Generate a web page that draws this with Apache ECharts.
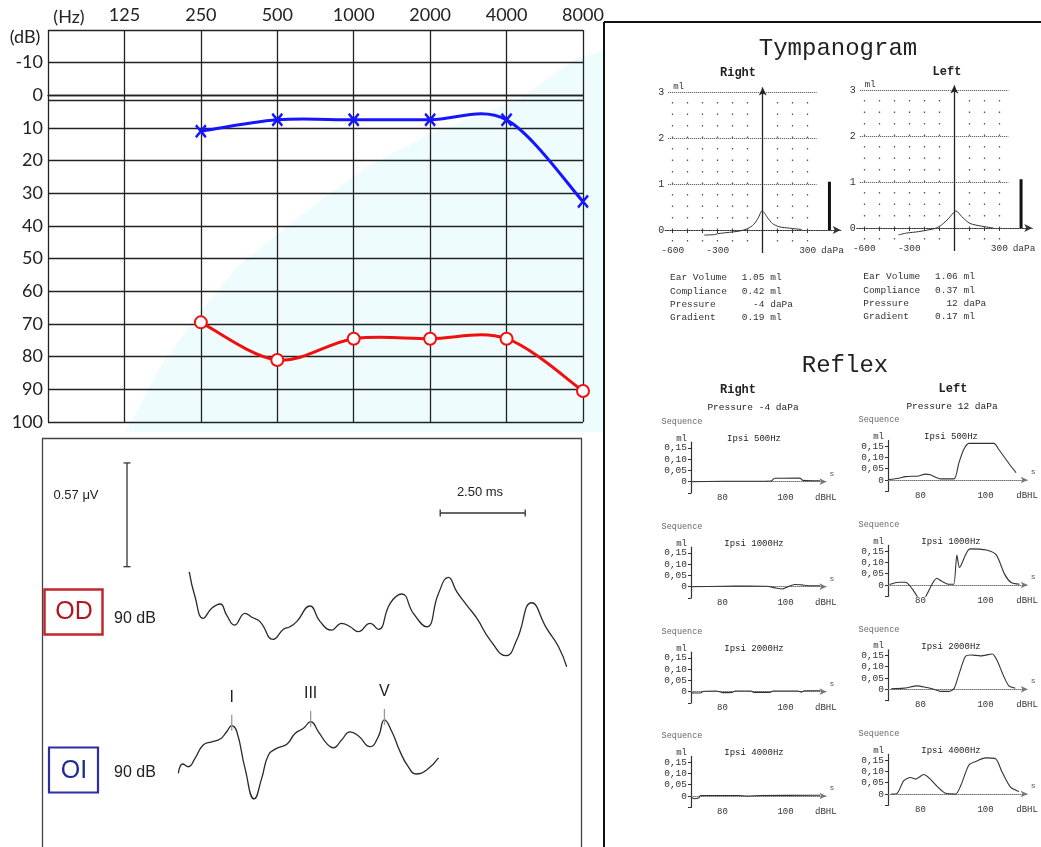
<!DOCTYPE html>
<html>
<head>
<meta charset="utf-8">
<script src="https://cdn.jsdelivr.net/npm/echarts/dist/echarts.min.js"></script>
<style>
html, body { margin: 0; padding: 0; background: #fff; }
#chart { width: 1041px; height: 847px; }
</style>
</head>
<body>
<div id="chart"></div>
<script>
// ---- audiogram ----
var freqLabels = ['125', '250', '500', '1000', '2000', '4000', '8000'];
var testFreqs = ['250', '500', '1000', '2000', '4000', '8000'];
var leftEarDb = [11, 7.5, 7.5, 7.5, 7.5, 32.5];   // blue X
var rightEarDb = [69.5, 81, 74.5, 74.5, 74.5, 90.5]; // red O

// ---- ABR (ms / uV) ----
var odTime = [0.33, 0.50, 0.74, 0.99, 1.24, 1.43, 1.66, 1.97, 2.17, 2.41, 2.80, 3.10, 3.29, 3.49, 3.88, 4.18, 4.52, 4.81, 5.06, 5.30, 5.65, 5.89, 6.24, 6.58, 6.92, 7.31, 7.66, 7.95, 8.20, 8.49, 8.79, 9.18, 9.65, 9.96, 10.40, 10.84, 11.19, 11.43];
var odAmp = [0.375, 0.238, 0.119, 0.174, 0.198, 0.137, 0.082, 0.147, 0.125, 0.101, 0.004, 0.059, 0.073, 0.101, 0.187, 0.101, 0.055, 0.092, 0.073, 0.046, 0.092, 0.059, 0.202, 0.253, 0.147, 0.073, 0.256, 0.344, 0.265, 0.192, 0.119, 0.0, -0.086, 0.0, 0.205, 0.064, -0.037, -0.147];
var oiTime = [0.01, 0.14, 0.30, 0.50, 0.74, 0.99, 1.24, 1.43, 1.58, 1.73, 1.97, 2.24, 2.46, 2.66, 2.90, 3.20, 3.44, 3.69, 3.90, 4.13, 4.37, 4.57, 4.81, 5.06, 5.30, 5.65, 5.89, 6.07, 6.29, 6.53, 6.77, 7.00, 7.31, 7.66];
var oiAmp = [-0.018, 0.033, 0.018, 0.064, 0.137, 0.155, 0.170, 0.210, 0.243, 0.210, 0.009, -0.159, -0.046, 0.082, 0.119, 0.141, 0.201, 0.229, 0.265, 0.210, 0.146, 0.122, 0.165, 0.210, 0.188, 0.128, 0.183, 0.275, 0.210, 0.101, 0.018, -0.022, 0.0, 0.067];
var peakLabels = ['I', 'III', 'V'];
var peakIdx = [8, 18, 27];
var scaleUv = 0.57;
var scaleMs = 2.5;

// ---- tympanogram (daPa / ml) ----
var tympRight = [[-390, -0.11], [-320, -0.1], [-300, -0.08], [-220, -0.05], [-150, -0.02], [-100, 0.03], [-60, 0.12], [-30, 0.26], [-4, 0.42], [30, 0.28], [65, 0.14], [110, 0.07], [180, 0.04], [260, 0.01]];
var tympLeft = [[-373, -0.15], [-317, -0.11], [-240, -0.08], [-129, -0.01], [-84, 0.07], [-40, 0.2], [12, 0.37], [49, 0.25], [104, 0.1], [182, 0.04], [260, 0.0]];
var earVolume = [1.05, 1.06];
var tympLabels = ['Ear Volume', 'Compliance', 'Pressure', 'Gradient'];
var tympValuesR = ['1.05 ml', '0.42 ml', '  -4 daPa', '0.19 ml'];
var tympValuesL = ['1.06 ml', '0.37 ml', '  12 daPa', '0.17 ml'];
var tympDotCols = [-600, -500, -400, -300, -200, -100, 100, 200, 300];
var tympLevels = [1, 2, 3];

// ---- reflex (dBHL / ml) ----
var reflexFreqs = ['500Hz', '1000Hz', '2000Hz', '4000Hz'];
var reflexR500 = [[70, 0], [80, 0.002], [90, 0.002], [95.5, 0.003], [96.5, 0.015], [104.5, 0.016], [105.5, 0.006], [111, 0.004]];
var reflexR1000 = [[70, 0], [80, 0.002], [88, 0.003], [94, 0.002], [97, -0.006], [99, -0.01], [100.5, -0.002], [103, 0.01], [105, 0.008], [108, 0.004], [111, 0.004]];
var reflexR2000 = [[70, -0.005], [73, -0.006], [74, 0.002], [78, 0.003], [80, -0.004], [83, -0.003], [84, 0.003], [89, 0.003], [90, -0.003], [95, -0.003], [96, 0.003], [104, 0.003], [105, -0.002], [106, 0.004], [111, 0.004]];
var reflexR4000 = [[70, -0.005], [71, -0.012], [72.5, -0.008], [73, 0.002], [85, 0.002], [88, 0], [92, 0.002], [111, 0.003]];
var reflexL500 = [[70.3, 0.002], [73.3, 0.008], [75.4, 0.015], [79.5, 0.018], [81.5, 0.026], [83, 0.023], [86.2, 0.005], [90.3, 0.005], [91.8, 0.075], [93.3, 0.135], [94.9, 0.162], [102.6, 0.162], [104.1, 0.135], [107.2, 0.073], [109.4, 0.033]];
var reflexL1000 = [[70.5, 0.002], [73.3, 0.012], [75.4, 0.012], [77.4, -0.016], [79.5, -0.06], [81, -0.067], [82, -0.04], [85, 0.03], [86.6, 0.016], [88.7, 0.003], [90.2, 0.003], [91.2, 0.133], [92, 0.078], [95.2, 0.16], [100.3, 0.155], [103.3, 0.133], [105.9, 0.047], [107.9, 0.011], [110.5, 0.003]];
var reflexL2000 = [[71, 0.002], [74.9, 0.005], [79, 0.015], [81.5, 0.009], [84.1, 0], [86.2, -0.009], [88.7, -0.009], [90.3, 0.003], [91.8, 0.065], [93.8, 0.145], [95.4, 0.152], [98.5, 0.148], [102.1, 0.156], [103.6, 0.126], [105.6, 0.058], [107.2, 0.015], [109.2, 0.005]];
var reflexL4000 = [[71, 0], [72.8, 0.003], [74.8, 0.058], [76.9, 0.073], [78.5, 0.066], [81, 0.086], [83, 0.066], [85.6, 0.027], [87.7, 0.003], [90.8, 0], [92.3, 0.034], [94.9, 0.128], [97, 0.144], [100, 0.16], [103.1, 0.156], [105.1, 0.097], [107.7, 0.03], [110.3, 0.011]];

var mono = '"Liberation Mono", "DejaVu Sans Mono", monospace';
var sans = '"Liberation Sans", Arial, sans-serif';
var lato = 'Lato, "Open Sans", sans-serif';

function txt(s, x, y, size, o) {
  o = o || {};
  return {
    type: 'text', x: x, y: y, z: 50, silent: true,
    style: {
      text: s, fill: o.color || '#222',
      font: (o.weight || 'normal') + ' ' + size + 'px ' + (o.family || mono),
      align: o.align || 'center', verticalAlign: 'middle',
      textAlign: o.align || 'center', textVerticalAlign: 'middle'
    }
  };
}

// catmull-rom curve through the points, drawn in the grid's own coords
function splineSeries(axisIdx, pts, color) {
  return {
    type: 'custom', xAxisIndex: axisIdx, yAxisIndex: axisIdx, z: 4, silent: true,
    data: pts,
    renderItem: function (params, api) {
      if (params.dataIndex !== 0) return null;
      var p = pts.map(function (d) { return api.coord(d); });
      var kids = [];
      for (var i = 0; i < p.length - 1; i++) {
        var p0 = p[i - 1] || p[i], p1 = p[i], p2 = p[i + 1], p3 = p[i + 2] || p2;
        kids.push({
          type: 'bezierCurve',
          shape: {
            x1: p1[0], y1: p1[1], x2: p2[0], y2: p2[1],
            cpx1: p1[0] + (p2[0] - p0[0]) / 6, cpy1: p1[1] + (p2[1] - p0[1]) / 6,
            cpx2: p2[0] - (p3[0] - p1[0]) / 6, cpy2: p2[1] - (p3[1] - p1[1]) / 6
          },
          style: { stroke: color, lineWidth: 3, fill: null }
        });
      }
      return { type: 'group', children: kids };
    }
  };
}

var grids = [], xAxes = [], yAxes = [], series = [], graphics = [];

// background swoosh and frames
graphics.push({
  type: 'polygon', z: -10, silent: true,
  shape: { points: [[126, 432], [160, 367], [200, 312], [237, 267], [279, 233], [321, 200], [367, 167], [432, 133], [517, 100], [574, 60], [604, 50], [604, 432]] },
  style: { fill: '#eefcfd' }
});
graphics.push({ type: 'line', z: 40, shape: { x1: 604, y1: 22, x2: 1041, y2: 22 }, style: { stroke: '#111', lineWidth: 2 } });
graphics.push({ type: 'line', z: 40, shape: { x1: 604, y1: 22, x2: 604, y2: 847 }, style: { stroke: '#111', lineWidth: 2 } });
graphics.push({ type: 'rect', z: 40, shape: { x: 42.5, y: 438.5, width: 539, height: 420 }, style: { fill: 'none', stroke: '#444', lineWidth: 1.3 } });

// ===== audiogram =====
grids.push({ left: 48, top: 30, width: 535, height: 392 });
xAxes.push({
  gridIndex: 0, type: 'value', min: 0, max: 7, interval: 1, position: 'top',
  axisLine: { lineStyle: { color: '#222', width: 1.3 } },
  axisTick: { show: false },
  axisLabel: { formatter: function (v) { return v > 0 ? freqLabels[v - 1] : ''; }, fontFamily: lato, fontSize: 18, color: '#222', margin: 6 },
  splitLine: { show: true, lineStyle: { color: '#222', width: 1.3 } }
});
yAxes.push({
  gridIndex: 0, type: 'value', min: -20, max: 100, interval: 10, inverse: true,
  axisLine: { show: false }, axisTick: { show: false },
  axisLabel: { formatter: function (v) { return v === -20 ? '' : v; }, fontFamily: lato, fontSize: 18, color: '#222', margin: 5 },
  splitLine: { show: true, lineStyle: { color: '#222', width: 1.3 } }
});
graphics.push(txt('(Hz)', 69, 17, 18, { family: lato }));
graphics.push(txt('(dB)', 25, 37, 18, { family: lato }));

var leftPts = testFreqs.map(function (f, i) { return [freqLabels.indexOf(f) + 1, leftEarDb[i]]; });
var rightPts = testFreqs.map(function (f, i) { return [freqLabels.indexOf(f) + 1, rightEarDb[i]]; });
series.push(splineSeries(0, leftPts, '#1515ff'));
series.push(splineSeries(0, rightPts, '#f01010'));
series.push({
  type: 'line', xAxisIndex: 0, yAxisIndex: 0, z: 6,
  data: leftPts,
  lineStyle: { opacity: 0 },
  symbol: 'path://M0,0L10,12M10,0L0,12', symbolSize: [10, 12],
  itemStyle: { color: '#1515ff', borderColor: '#1515ff', borderWidth: 2.5 },
  markLine: { silent: true, symbol: 'none', label: { show: false }, lineStyle: { color: '#222', width: 1.3, type: 'solid' }, data: [{ yAxis: 1.5 }] }
});
series.push({
  type: 'line', xAxisIndex: 0, yAxisIndex: 0, z: 6,
  data: rightPts,
  lineStyle: { opacity: 0 },
  symbol: 'emptyCircle', symbolSize: 12,
  itemStyle: { color: '#f01010', borderWidth: 2 }
});

// ===== ABR =====
var abrBox = { left: 42, top: 438, width: 540, height: 409 };
grids.push(abrBox);
grids.push(abrBox);
xAxes.push({ gridIndex: 1, type: 'value', min: -4, max: 11.88, show: false });
yAxes.push({ gridIndex: 1, type: 'value', min: -1.137, max: 1.11, show: false });
xAxes.push({ gridIndex: 2, type: 'value', min: -4, max: 11.88, show: false });
yAxes.push({ gridIndex: 2, type: 'value', min: -0.423, max: 1.824, show: false });

series.push({
  type: 'line', xAxisIndex: 1, yAxisIndex: 1, smooth: 0.5, showSymbol: false,
  data: odTime.map(function (t, i) { return [t, odAmp[i]]; }),
  lineStyle: { color: '#2a2a2a', width: 1.3 }
});
var uvBarAt = [-1.5, 0.403], msBarAt = [7.71, 0.698];
series.push({
  type: 'line', xAxisIndex: 1, yAxisIndex: 1, symbol: 'rect', symbolSize: [7, 1.3],
  data: [uvBarAt, [uvBarAt[0], uvBarAt[1] + scaleUv]],
  lineStyle: { color: '#333', width: 1.3 }, itemStyle: { color: '#333' }
});
series.push({
  type: 'line', xAxisIndex: 1, yAxisIndex: 1, symbol: 'rect', symbolSize: [1.3, 7],
  data: [msBarAt, [msBarAt[0] + scaleMs, msBarAt[1]]],
  lineStyle: { color: '#333', width: 1.5 }, itemStyle: { color: '#333' }
});
series.push({
  type: 'line', xAxisIndex: 2, yAxisIndex: 2, smooth: 0.5, showSymbol: false,
  data: oiTime.map(function (t, i) { return [t, oiAmp[i]]; }),
  lineStyle: { color: '#2a2a2a', width: 1.3 },
  markPoint: {
    silent: true, symbol: 'rect', symbolSize: [1.3, 16], symbolOffset: [0, -3],
    itemStyle: { color: '#9a9a9a' },
    label: { show: true, position: 'top', distance: 9, formatter: '{b}', color: '#222', fontSize: 16, fontFamily: sans },
    data: peakIdx.map(function (k, i) { return { name: peakLabels[i], coord: [oiTime[k], oiAmp[k]] }; })
  }
});
graphics.push(txt(scaleUv.toFixed(2) + ' μV', 76, 495, 13, { family: sans }));
graphics.push(txt(scaleMs.toFixed(2) + ' ms', 480, 492, 13, { family: sans }));
graphics.push({ type: 'rect', z: 45, shape: { x: 44.5, y: 589.5, width: 58, height: 45 }, style: { fill: '#fff', stroke: '#c2272d', lineWidth: 2.5 } });
graphics.push(txt('OD', 74, 612.5, 25, { family: sans, color: '#b01a1f' }));
graphics.push(txt('90 dB', 135, 619, 16, { family: sans }));
graphics.push({ type: 'rect', z: 45, shape: { x: 49, y: 747.5, width: 49, height: 45 }, style: { fill: '#fff', stroke: '#2b2fa0', lineWidth: 2.2 } });
graphics.push(txt('OI', 74, 771.5, 25, { family: sans, color: '#1c2a9a' }));
graphics.push(txt('90 dB', 135, 773, 16, { family: sans }));

// ===== tympanogram =====
function tympMarks() {
  var d = [];
  tympLevels.forEach(function (l) {
    d.push([{ coord: [-630, l], lineStyle: { type: 'dotted', color: '#444', width: 1 } }, { coord: [360, l] }]);
  });
  tympDotCols.forEach(function (c) {
    d.push([{ coord: [c, -0.25], lineStyle: { type: [1.5, 10], color: '#555', width: 1.3 } }, { coord: [c, 2.8] }]);
  });
  d.push([{ coord: [0, -0.5], symbol: 'none', lineStyle: { type: 'solid', color: '#222', width: 1.3 } }, { coord: [0, 3.1], symbol: 'arrow', symbolSize: [6, 8] }]);
  return d;
}
var tympGrids = [
  { left: 665.2, top: 87.4, data: tympRight, vol: earVolume[0] },
  { left: 856.8, top: 85.4, data: tympLeft, vol: earVolume[1] }
];
tympGrids.forEach(function (g) {
  var gi = grids.length;
  grids.push({ left: g.left, top: g.top, width: 175.5, height: 165.6 });
  xAxes.push({
    gridIndex: gi, type: 'value', min: -650, max: 520,
    axisLine: { onZero: true, symbol: ['none', 'arrow'], symbolSize: [6, 8], lineStyle: { color: '#333', width: 1.2, type: 'dotted' } },
    axisTick: { show: true, customValues: tympDotCols, length: 3, lineStyle: { color: '#333' } },
    axisLabel: { customValues: [-600, -300, 300, 465], formatter: function (v) { return v === 465 ? 'daPa' : String(v); }, fontFamily: mono, fontSize: 9.5, color: '#333', margin: -8 },
    splitLine: { show: false }
  });
  yAxes.push({
    gridIndex: gi, type: 'value', min: -0.5, max: 3.1,
    axisLine: { show: false, onZero: false }, axisTick: { show: false },
    axisLabel: { customValues: [0, 1, 2, 3], fontFamily: mono, fontSize: 10, color: '#333', margin: 1 },
    splitLine: { show: false },
    name: 'ml', nameLocation: 'end', nameGap: 1,
    nameTextStyle: { align: 'left', verticalAlign: 'middle', padding: [0, 0, 0, 8], fontFamily: mono, fontSize: 9, color: '#333' }
  });
  series.push({
    type: 'line', xAxisIndex: gi, yAxisIndex: gi, smooth: 0.25, showSymbol: false, z: 4,
    data: g.data, lineStyle: { color: '#333', width: 1 },
    markLine: { silent: true, symbol: 'none', label: { show: false }, data: tympMarks() }
  });
  series.push({
    type: 'bar', xAxisIndex: gi, yAxisIndex: gi, barWidth: 3,
    data: [[445, g.vol]], itemStyle: { color: '#111' }
  });
});
graphics.push(txt('Tympanogram', 838, 49, 24));
graphics.push(txt('Right', 738, 73, 12, { weight: 'bold' }));
graphics.push(txt('Left', 947, 72, 12, { weight: 'bold' }));
var infoRowsR = [277.3, 291, 304.7, 317.7], infoRowsL = [276, 290, 303.3, 316.7];
tympLabels.forEach(function (l, i) {
  graphics.push(txt(l, 670, infoRowsR[i], 9.5, { align: 'left', color: '#333' }));
  graphics.push(txt(tympValuesR[i], 741.7, infoRowsR[i], 9.5, { align: 'left', color: '#333' }));
  graphics.push(txt(l, 863.3, infoRowsL[i], 9.5, { align: 'left', color: '#333' }));
  graphics.push(txt(tympValuesL[i], 935, infoRowsL[i], 9.5, { align: 'left', color: '#333' }));
});

// ===== reflex =====
graphics.push(txt('Reflex', 845, 366, 24));
graphics.push(txt('Right', 738, 390, 12, { weight: 'bold' }));
graphics.push(txt('Left', 953, 388.5, 12, { weight: 'bold' }));
graphics.push(txt('Pressure -4 daPa', 753, 407.7, 9.5));
graphics.push(txt('Pressure 12 daPa', 952, 406.7, 9.5));

var reflexCols = [
  { left: 691, width: 135.45, bases: [481.7, 586.7, 691.7, 796], seqX: 682, ipsiX: 754, sets: [reflexR500, reflexR1000, reflexR2000, reflexR4000] },
  { left: 888, width: 139.75, bases: [480, 585, 689.3, 794], seqX: 879, ipsiX: 951, sets: [reflexL500, reflexL1000, reflexL2000, reflexL4000] }
];
function mlFmt(v) { return v === 0 ? '0' : v.toFixed(2).replace('.', ','); }
reflexCols.forEach(function (c) {
  c.bases.forEach(function (b, r) {
    var gi = grids.length;
    grids.push({ left: c.left, top: b - 39.55, width: c.width, height: 50.85 });
    xAxes.push({
      gridIndex: gi, type: 'value', min: 70, max: 113,
      axisLine: { onZero: true, symbol: ['none', 'arrow'], symbolSize: [5, 7], lineStyle: { color: '#777', width: 1, type: 'dotted' } },
      axisTick: { show: false },
      axisLabel: { customValues: [80, 100, 112.8], formatter: function (v) { return v > 110 ? 'dBHL' : String(v); }, fontFamily: mono, fontSize: 9, color: '#333', margin: 0 },
      splitLine: { show: false },
      name: 's', nameLocation: 'end', nameGap: 3,
      nameTextStyle: { fontFamily: mono, fontSize: 8, color: '#555', verticalAlign: 'bottom', padding: [0, 0, 4, 0] }
    });
    yAxes.push({
      gridIndex: gi, type: 'value', min: -0.05, max: 0.175,
      axisLine: { show: true, onZero: false, lineStyle: { color: '#333', width: 1.2 } },
      axisTick: { show: true, customValues: [-0.05, 0, 0.05, 0.1, 0.15], length: 3, lineStyle: { color: '#333' } },
      axisLabel: { customValues: [0, 0.05, 0.1, 0.15], formatter: mlFmt, fontFamily: mono, fontSize: 9.5, color: '#333', margin: 4 },
      splitLine: { show: false },
      name: 'ml', nameLocation: 'end', nameGap: 3,
      nameTextStyle: { align: 'right', verticalAlign: 'middle', padding: [0, 4, 0, 0], fontFamily: mono, fontSize: 9, color: '#333' }
    });
    series.push({
      type: 'line', xAxisIndex: gi, yAxisIndex: gi, smooth: 0.25, showSymbol: false,
      data: c.sets[r], lineStyle: { color: '#333', width: 1.1 }
    });
    graphics.push(txt('Sequence', c.seqX, b - 60, 8.5, { color: '#666' }));
    graphics.push(txt('Ipsi ' + reflexFreqs[r], c.ipsiX, b - 43, 9));
  });
});

var chart = echarts.init(document.getElementById('chart'), null, { renderer: 'canvas' });
chart.setOption({
  animation: false,
  backgroundColor: '#fff',
  grid: grids.map(function (g) { return Object.assign({ containLabel: false, outerBoundsMode: 'none' }, g); }),
  xAxis: xAxes,
  yAxis: yAxes,
  series: series,
  graphic: { elements: graphics }
});
</script>
</body>
</html>
